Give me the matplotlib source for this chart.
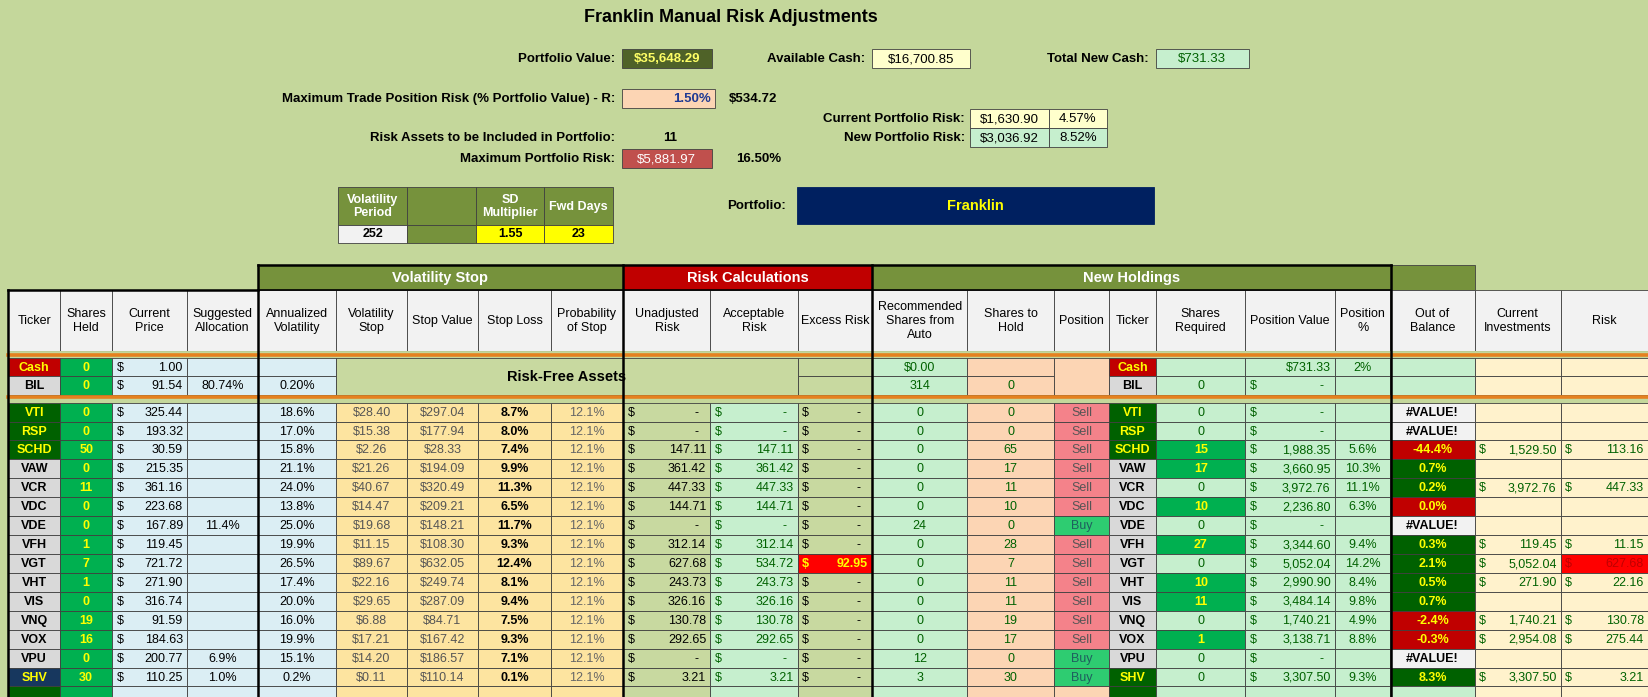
import matplotlib
matplotlib.use("Agg")
import matplotlib.pyplot as plt
import matplotlib.patches as patches

plt.rcParams["font.family"] = ["Liberation Sans", "DejaVu Sans"]

# ---------------------------------------------------------------------------
# Data
# ---------------------------------------------------------------------------
tickers = ["VTI", "RSP", "SCHD", "VAW", "VCR", "VDC", "VDE", "VFH", "VGT",
           "VHT", "VIS", "VNQ", "VOX", "VPU", "SHV"]
shares_held = [0, 0, 50, 0, 11, 0, 0, 1, 7, 1, 0, 19, 16, 0, 30]
price = [325.44, 193.32, 30.59, 215.35, 361.16, 223.68, 167.89, 119.45,
         721.72, 271.90, 316.74, 91.59, 184.63, 200.77, 110.25]
sugg_alloc = ["", "", "", "", "", "", "11.4%", "", "", "", "", "", "",
              "6.9%", "1.0%"]
ann_vol = [18.6, 17.0, 15.8, 21.1, 24.0, 13.8, 25.0, 19.9, 26.5, 17.4, 20.0,
           16.0, 19.9, 15.1, 0.2]
vol_stop = [28.40, 15.38, 2.26, 21.26, 40.67, 14.47, 19.68, 11.15, 89.67,
            22.16, 29.65, 6.88, 17.21, 14.20, 0.11]
stop_value = [297.04, 177.94, 28.33, 194.09, 320.49, 209.21, 148.21, 108.30,
              632.05, 249.74, 287.09, 84.71, 167.42, 186.57, 110.14]
stop_loss = [8.7, 8.0, 7.4, 9.9, 11.3, 6.5, 11.7, 9.3, 12.4, 8.1, 9.4, 7.5,
             9.3, 7.1, 0.1]
prob_stop = [12.1] * 15
unadj_risk = [None, None, 147.11, 361.42, 447.33, 144.71, None, 312.14,
              627.68, 243.73, 326.16, 130.78, 292.65, None, 3.21]
accept_risk = [None, None, 147.11, 361.42, 447.33, 144.71, None, 312.14,
               534.72, 243.73, 326.16, 130.78, 292.65, None, 3.21]
excess_risk = [None] * 8 + [92.95] + [None] * 6
rec_shares = [0, 0, 0, 0, 0, 0, 24, 0, 0, 0, 0, 0, 0, 12, 3]
shares_hold = [0, 0, 65, 17, 11, 10, 0, 28, 7, 11, 11, 19, 17, 0, 30]
position = ["Sell"] * 6 + ["Buy"] + ["Sell"] * 6 + ["Buy", "Buy"]
shares_req = [0, 0, 15, 17, 0, 10, 0, 27, 0, 10, 11, 0, 1, 0, 0]
pos_value = [None, None, 1988.35, 3660.95, 3972.76, 2236.80, None, 3344.60,
             5052.04, 2990.90, 3484.14, 1740.21, 3138.71, None, 3307.50]
pos_pct = ["", "", "5.6%", "10.3%", "11.1%", "6.3%", "", "9.4%", "14.2%",
           "8.4%", "9.8%", "4.9%", "8.8%", "", "9.3%"]
out_bal = [None, None, -44.4, 0.7, 0.2, 0.0, None, 0.3, 2.1, 0.5, 0.7, -2.4,
           -0.3, None, 8.3]
cur_inv = [None, None, 1529.50, None, 3972.76, None, None, 119.45, 5052.04,
           271.90, None, 1740.21, 2954.08, None, 3307.50]
risk = [None, None, 113.16, None, 447.33, None, None, 11.15, 627.68, 22.16,
        None, 130.78, 275.44, None, 3.21]

headers = ["Ticker", "Shares\nHeld", "Current\nPrice", "Suggested\nAllocation",
           "Annualized\nVolatility", "Volatility\nStop", "Stop Value",
           "Stop Loss", "Probability\nof Stop", "Unadjusted\nRisk",
           "Acceptable\nRisk", "Excess Risk", "Recommended\nShares from\nAuto",
           "Shares to\nHold", "Position", "Ticker", "Shares\nRequired",
           "Position Value", "Position\n%", "Out of\nBalance",
           "Current\nInvestments", "Risk"]

# ---------------------------------------------------------------------------
# Layout / colours
# ---------------------------------------------------------------------------
BG = "#c4d79b"
OLIVE = "#76923c"
DKRED = "#c00000"
DKGRN = "#006100"
GRN = "#00b050"
GRAY = "#d9d9d9"
LBLUE = "#dbeef4"
LORANGE = "#fde4a0"
OLIVE_L = "#c8d9a0"
LGREEN = "#c6efce"
PEACH = "#fcd5b4"
SELL = "#f4828a"
LYEL = "#fff2cc"
ORANGE = "#e5811f"

W, H = 1568, 663          # drawing units (reference grid)
xe = [8, 57, 107, 178, 245, 320, 387, 455, 524, 593, 676, 759, 830, 920,
      1003, 1055, 1100, 1185, 1270, 1323, 1403, 1485, 1568]
FS = 9.0

fig = plt.figure(figsize=(16.48, 6.97), dpi=100)
fig.patch.set_facecolor(BG)
ax = fig.add_axes([0, 0, 1, 1])
ax.set_xlim(0, W)
ax.set_ylim(H, 0)
ax.axis("off")


def cell(x0, x1, y0, y1, fc=None, text="", color="black", ha="center",
         bold=False, size=FS, ec="#404040", lw=0.6):
    if fc is not None:
        ax.add_patch(patches.Rectangle((x0, y0), x1 - x0, y1 - y0,
                                       facecolor=fc, edgecolor=ec, lw=lw))
    if text != "":
        tx = {"center": (x0 + x1) / 2, "right": x1 - 4, "left": x0 + 4}[ha]
        ax.text(tx, (y0 + y1) / 2 + 0.5, text, ha=ha, va="center",
                color=color, fontsize=size,
                fontweight="bold" if bold else "normal")


def money(x0, x1, y0, y1, fc, val, color="black", bold=False):
    cell(x0, x1, y0, y1, fc)
    ax.text(x0 + 4, (y0 + y1) / 2 + 0.5, "$", ha="left", va="center",
            color=color, fontsize=FS, fontweight="bold" if bold else "normal")
    s = "-  " if val is None else f"{val:,.2f}"
    ax.text(x1 - 4, (y0 + y1) / 2 + 0.5, s, ha="right", va="center",
            color=color, fontsize=FS, fontweight="bold" if bold else "normal")


def lab(x, y, s, ha="right", bold=True, size=9.5):
    ax.text(x, y, s, ha=ha, va="center", fontsize=size,
            fontweight="bold" if bold else "normal")


# ---------------------------------------------------------------------------
# Top block
# ---------------------------------------------------------------------------
ax.text(695, 17, "Franklin Manual Risk Adjustments", ha="center", va="center",
        fontsize=13, fontweight="bold")
lab(585, 56, "Portfolio Value:")
cell(592, 677, 47, 65, "#4f6228", "$35,648.29", "#ffff66", bold=True, size=9.5)
lab(823, 56, "Available Cash:")
cell(830, 923, 47, 65, "#ffffcc", "$16,700.85", "black", size=9.5)
lab(1093, 56, "Total New Cash:")
cell(1100, 1188, 47, 65, LGREEN, "$731.33", DKGRN, size=9.5)

lab(585, 94, "Maximum Trade Position Risk (% Portfolio Value) - R:")
cell(592, 680, 85, 103, PEACH, "1.50%", "#1f3a93", ha="right", bold=True,
     size=9.5)
lab(693, 94, "$534.72", ha="left")
lab(918, 113, "Current Portfolio Risk:")
cell(923, 998, 104, 122, "#ffffcc", "$1,630.90", "black", size=9.5)
cell(998, 1053, 104, 122, "#ffffcc", "4.57%", "black", size=9.5)
lab(585, 131, "Risk Assets to be Included in Portfolio:")
lab(638, 131, "11", ha="center")
lab(918, 131, "New Portfolio Risk:")
cell(923, 998, 122, 140, LGREEN, "$3,036.92", "black", size=9.5)
cell(998, 1053, 122, 140, LGREEN, "8.52%", "black", size=9.5)
lab(585, 151, "Maximum Portfolio Risk:")
cell(592, 677, 142, 160, "#c0504d", "$5,881.97", "white", size=9.5)
lab(700, 151, "16.50%", ha="left")

small_hdr = ["Volatility\nPeriod", "", "SD\nMultiplier", "Fwd Days"]
small_val = ["252", "", "1.55", "23"]
small_fc = ["#f2f2f2", OLIVE, "#ffff00", "#ffff00"]
sx = [322, 387, 453, 518, 583]
for i in range(4):
    cell(sx[i], sx[i + 1], 178, 214, OLIVE, small_hdr[i], "white", bold=True)
    cell(sx[i], sx[i + 1], 214, 231, small_fc[i], small_val[i], "black",
         bold=True)
lab(748, 196, "Portfolio:")
cell(758, 1098, 178, 213, "#002060", "Franklin", "#ffff00", bold=True,
     size=10.5, ec="#002060")

# ---------------------------------------------------------------------------
# Main table header
# ---------------------------------------------------------------------------
cell(245, 593, 252, 276, OLIVE, "Volatility Stop", "white", bold=True,
     size=10.5)
cell(593, 830, 252, 276, DKRED, "Risk Calculations", "white", bold=True,
     size=10.5)
cell(830, 1323, 252, 276, OLIVE, "New Holdings", "white", bold=True,
     size=10.5)
cell(1323, 1403, 252, 276, OLIVE)
for i, h in enumerate(headers):
    cell(xe[i], xe[i + 1], 276, 334, "#f2f2f2", h, "black", size=9)

col_fc = [GRAY, GRN, LBLUE, LBLUE, LBLUE, LORANGE, LORANGE, LORANGE,
          LORANGE, OLIVE_L, LGREEN, OLIVE_L, LGREEN, PEACH, PEACH, GRAY,
          LGREEN, LGREEN, LGREEN, LGREEN, LYEL, LYEL]
for i in range(22):
    cell(xe[i], xe[i + 1], 334, 341, BG, ec=BG)
    cell(xe[i], xe[i + 1], 376, 383, BG, ec=BG)

# Risk-free rows
rf = [(341, 358), (358, 376)]
cell(xe[0], xe[1], *rf[0], DKRED, "Cash", "#ffff00", bold=True)
cell(xe[0], xe[1], *rf[1], GRAY, "BIL", "black", bold=True)
for r in range(2):
    cell(xe[1], xe[2], *rf[r], GRN, "0", "#ffff00", bold=True)
money(xe[2], xe[3], *rf[0], LBLUE, 1.00)
money(xe[2], xe[3], *rf[1], LBLUE, 91.54)
cell(xe[3], xe[4], *rf[0], LBLUE)
cell(xe[3], xe[4], *rf[1], LBLUE, "80.74%")
cell(xe[4], xe[5], *rf[0], LBLUE)
cell(xe[4], xe[5], *rf[1], LBLUE, "0.20%")
cell(xe[5], xe[11], 341, 376, OLIVE_L, "Risk-Free Assets", "black",
     bold=True, size=10.5)
cell(xe[11], xe[12], *rf[0], OLIVE_L)
cell(xe[11], xe[12], *rf[1], OLIVE_L)
cell(xe[12], xe[13], *rf[0], LGREEN, "$0.00", DKGRN)
cell(xe[12], xe[13], *rf[1], LGREEN, "314", DKGRN)
cell(xe[13], xe[14], *rf[0], PEACH)
cell(xe[13], xe[14], *rf[1], PEACH, "0", DKGRN)
cell(xe[14], xe[15], 341, 376, PEACH)
cell(xe[15], xe[16], *rf[0], DKRED, "Cash", "#ffff00", bold=True)
cell(xe[15], xe[16], *rf[1], GRAY, "BIL", "black", bold=True)
cell(xe[16], xe[17], *rf[0], LGREEN)
cell(xe[16], xe[17], *rf[1], LGREEN, "0", DKGRN)
cell(xe[17], xe[18], *rf[0], LGREEN, "$731.33", DKGRN, ha="right")
money(xe[17], xe[18], *rf[1], LGREEN, None, color=DKGRN)
cell(xe[18], xe[19], *rf[0], LGREEN, "2%", DKGRN)
cell(xe[18], xe[19], *rf[1], LGREEN)
for i in (19, 20, 21):
    for r in range(2):
        cell(xe[i], xe[i + 1], *rf[r], LGREEN if i == 19 else LYEL)

# ---------------------------------------------------------------------------
# Risk asset rows
# ---------------------------------------------------------------------------
RH = 18.0
y = 383
for k, t in enumerate(tickers):
    y0, y1 = y + k * RH, y + (k + 1) * RH
    if t in ("VTI", "RSP", "SCHD"):
        cell(xe[0], xe[1], y0, y1, DKGRN, t, "#ffff00", bold=True)
    elif t == "SHV":
        cell(xe[0], xe[1], y0, y1, "#17375e", t, "#ffff00", bold=True)
    else:
        cell(xe[0], xe[1], y0, y1, GRAY, t, "black", bold=True)
    cell(xe[1], xe[2], y0, y1, GRN, str(shares_held[k]), "#ffff00", bold=True)
    money(xe[2], xe[3], y0, y1, LBLUE, price[k])
    cell(xe[3], xe[4], y0, y1, LBLUE, sugg_alloc[k])
    cell(xe[4], xe[5], y0, y1, LBLUE, f"{ann_vol[k]:.1f}%")
    cell(xe[5], xe[6], y0, y1, LORANGE, f"${vol_stop[k]:,.2f}", "#555555")
    cell(xe[6], xe[7], y0, y1, LORANGE, f"${stop_value[k]:,.2f}", "#555555")
    cell(xe[7], xe[8], y0, y1, LORANGE, f"{stop_loss[k]:.1f}%", bold=True)
    cell(xe[8], xe[9], y0, y1, LORANGE, f"{prob_stop[k]:.1f}%", "#666666")
    money(xe[9], xe[10], y0, y1, OLIVE_L, unadj_risk[k])
    money(xe[10], xe[11], y0, y1, LGREEN, accept_risk[k], color=DKGRN)
    if excess_risk[k] is None:
        money(xe[11], xe[12], y0, y1, OLIVE_L, None)
    else:
        money(xe[11], xe[12], y0, y1, "#ff0000", excess_risk[k],
              color="#ffff00", bold=True)
    cell(xe[12], xe[13], y0, y1, LGREEN, str(rec_shares[k]), DKGRN)
    cell(xe[13], xe[14], y0, y1, PEACH, str(shares_hold[k]), DKGRN)
    if position[k] == "Sell":
        cell(xe[14], xe[15], y0, y1, SELL, "Sell", "#555555")
    else:
        cell(xe[14], xe[15], y0, y1, "#2ecc71", "Buy", "#1f5f5f")
    if t in ("VTI", "RSP", "SCHD", "SHV"):
        cell(xe[15], xe[16], y0, y1, DKGRN, t, "#ffff00", bold=True)
    else:
        cell(xe[15], xe[16], y0, y1, GRAY, t, "black", bold=True)
    if shares_req[k]:
        cell(xe[16], xe[17], y0, y1, GRN, str(shares_req[k]), "#ffff00",
             bold=True)
    else:
        cell(xe[16], xe[17], y0, y1, LGREEN, "0", DKGRN)
    money(xe[17], xe[18], y0, y1, LGREEN, pos_value[k], color=DKGRN)
    cell(xe[18], xe[19], y0, y1, LGREEN, pos_pct[k], DKGRN)
    ob = out_bal[k]
    if ob is None:
        cell(xe[19], xe[20], y0, y1, "#f2f2f2", "#VALUE!", "black", bold=True)
    elif ob > 0:
        cell(xe[19], xe[20], y0, y1, DKGRN, f"{ob:.1f}%", "#ffff00",
             bold=True)
    else:
        cell(xe[19], xe[20], y0, y1, DKRED, f"{ob:.1f}%", "#ffff00",
             bold=True)
    if cur_inv[k] is None:
        cell(xe[20], xe[21], y0, y1, LYEL)
        cell(xe[21], xe[22], y0, y1, LYEL)
    else:
        money(xe[20], xe[21], y0, y1, LYEL, cur_inv[k], color=DKGRN)
        if risk[k] > 600:
            money(xe[21], xe[22], y0, y1, "#ff0000", risk[k], color=DKRED)
        else:
            money(xe[21], xe[22], y0, y1, LYEL, risk[k], color=DKGRN)

# partial row at the bottom
yb = y + len(tickers) * RH
for i in range(22):
    fc = col_fc[i]
    if i in (0, 15):
        fc = DKGRN
    cell(xe[i], xe[i + 1], yb, yb + 14, fc)

# orange separators
for yy in (338, 378):
    ax.plot([xe[0], xe[22]], [yy, yy], color=ORANGE, lw=2.6)

# thick section borders
for xx, ytop in ((xe[0], 276), (245, 252), (593, 252), (830, 252),
                 (1323, 252)):
    ax.plot([xx, xx], [ytop, H], color="black", lw=1.8)
ax.plot([xe[0], 245], [276, 276], color="black", lw=1.8)
ax.plot([245, 1323], [252, 252], color="black", lw=1.8)
ax.plot([245, 1323], [276, 276], color="black", lw=1.2)

fig.savefig("out.png", dpi=100, facecolor=BG)
